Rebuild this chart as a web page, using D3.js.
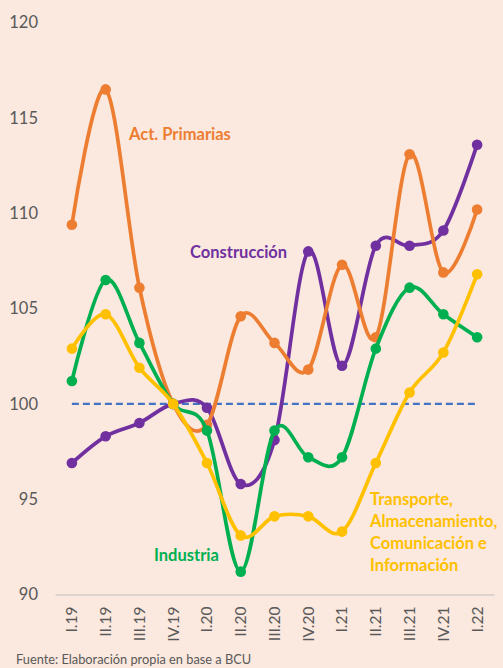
<!DOCTYPE html>
<html>
<head>
<meta charset="utf-8">
<script src="https://cdn.jsdelivr.net/npm/d3@7"></script>
<style>
  html, body { margin: 0; padding: 0; background: #FBE8DE; }
  svg { display: block; }
</style>
</head>
<body>
<script>
const categories = ["I.19","II.19","III.19","IV.19","I.20","II.20","III.20","IV.20","I.21","II.21","III.21","IV.21","I.22"];
const primarias   = [109.4,116.5,106.1,100,98.9,104.6,103.2,101.8,107.3,103.5,113.1,106.9,110.2];
const construccion= [96.9,98.3,99.0,100,99.8,95.8,98.1,108.0,102.0,108.3,108.3,109.1,113.6];
const industria   = [101.2,106.5,103.2,100,98.6,91.2,98.6,97.2,97.2,102.9,106.1,104.7,103.5];
const transporte  = [102.9,104.7,101.9,100,96.9,93.1,94.1,94.1,93.3,96.9,100.6,102.7,106.8];
const yTicks = [90,95,100,105,110,115,120];
const baseline = 100;
const source = "Fuente: Elaboración propia en base a BCU";

const W = 503, H = 668;
const font = "Lato, 'Open Sans', sans-serif";
const svg = d3.select("body").append("svg").attr("width", W).attr("height", H);
svg.append("rect").attr("width", W).attr("height", H).attr("fill", "#FBE8DE");

const x = d3.scaleBand().domain(categories).range([55, 494]);
const cx = c => x(c) + x.bandwidth() / 2;
const y = d3.scaleLinear().domain([90, 120]).range([594.5, 22.7]);

// y axis labels
const yAxis = d3.axisLeft(y).tickValues(yTicks).tickSize(0).tickPadding(0);
const gy = svg.append("g").attr("transform", "translate(38,0)").call(yAxis);
gy.select(".domain").remove();
gy.selectAll("text").attr("font-family", font).attr("font-size", 16.5).attr("fill", "#595959");

// x axis
const xAxis = d3.axisBottom(x).tickSize(0).tickPadding(0);
const gx = svg.append("g").attr("transform", `translate(0,${y(90)})`).call(xAxis);
gx.select(".domain").attr("stroke", "#BFBFBF").attr("stroke-width", 1);
gx.selectAll("text")
  .attr("font-family", font).attr("font-size", 15.5).attr("fill", "#595959")
  .attr("transform", "rotate(-90)")
  .attr("text-anchor", "end")
  .attr("dy", "0.35em")
  .attr("x", -12).attr("y", 0);

// baseline dashed
svg.append("line")
  .attr("x1", cx(categories[0])).attr("x2", cx(categories[categories.length - 1]))
  .attr("y1", y(baseline)).attr("y2", y(baseline))
  .attr("stroke", "#4472C4").attr("stroke-width", 2.2).attr("stroke-dasharray", "7,4");

const series = [
  { name: "Construcción", values: construccion, color: "#7030A0" },
  { name: "Act. Primarias", values: primarias, color: "#ED7D31" },
  { name: "Industria", values: industria, color: "#00B050" },
  { name: "Transporte", values: transporte, color: "#FFC000" }
];

const line = d3.line()
  .x((d, i) => cx(categories[i]))
  .y(d => y(d))
  .curve(d3.curveCatmullRom.alpha(0));

series.forEach(s => {
  const g = svg.append("g");
  g.append("path").attr("d", line(s.values))
    .attr("fill", "none").attr("stroke", s.color).attr("stroke-width", 3.7)
    .attr("stroke-linejoin", "round").attr("stroke-linecap", "round");
  g.selectAll("circle").data(s.values).join("circle")
    .attr("cx", (d, i) => cx(categories[i])).attr("cy", d => y(d))
    .attr("r", 5.3).attr("fill", s.color);
});

// labels
function label(lines, xp, yp, color, lh) {
  const t = svg.append("text").attr("font-family", font).attr("font-size", 16.5)
    .attr("font-weight", "bold").attr("fill", color);
  lines.forEach((l, i) => t.append("tspan").attr("x", xp).attr("y", yp + i * lh).text(l));
}
label(["Act. Primarias"], 129, 140, "#ED7D31", 0);
label(["Construcción"], 190, 258, "#7030A0", 0);
label(["Industria"], 154, 561, "#00B050", 0);
label(["Transporte,", "Almacenamiento,", "Comunicación e", "Información"], 370, 505, "#FFC000", 22);

svg.append("text").attr("x", 16).attr("y", 664)
  .attr("font-family", font).attr("font-size", 12.8).attr("fill", "#595959")
  .text(source);
</script>
</body>
</html>
